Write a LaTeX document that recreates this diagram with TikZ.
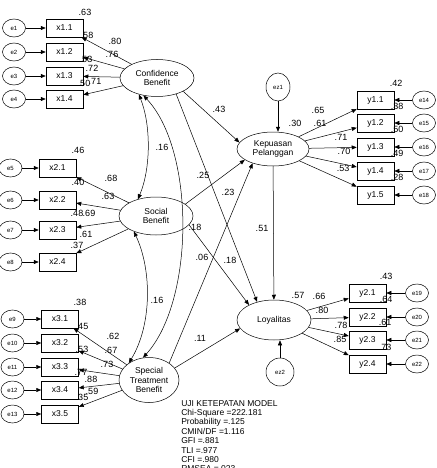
\documentclass[tikz,border=0pt]{standalone}
\usepackage{fontspec}
\setmainfont{Liberation Sans}
\usetikzlibrary{shapes.geometric,arrows.meta}

\begin{document}
\begin{tikzpicture}[x=1pt, y=1pt, line width=0.5pt,
    ind/.style={draw, minimum width=37pt, minimum height=18pt, inner sep=0pt, font=\fontsize{8.5}{9}\selectfont},
    err/.style={draw, ellipse, minimum width=23pt, minimum height=18pt, inner sep=0pt, font=\fontsize{6}{6}\selectfont},
    lat/.style={draw, ellipse, align=center, inner sep=0pt, font=\fontsize{8.5}{9.5}\selectfont},
    coef/.style={inner sep=0pt, font=\fontsize{9}{9}\selectfont},
    arr/.style={-{Triangle[length=5pt,width=4pt]}},
    cov/.style={{Triangle[length=5pt,width=4pt]}-{Triangle[length=5pt,width=4pt]}}]
  \useasboundingbox (0,0) rectangle (436,-468);

  % Latent variables and disturbances
  \node[lat, minimum width=74pt, minimum height=37pt] (conf) at (157,-78) {Confidence\\Benefit};
  \node[lat, minimum width=74pt, minimum height=38pt] (soc) at (156,-216) {Social\\Benefit};
  \node[lat, minimum width=60pt, minimum height=45pt] (spec) at (149,-380) {Special\\Treatment\\Benefit};
  \node[lat, minimum width=72pt, minimum height=34pt] (kep) at (273,-149) {Kepuasan\\Pelanggan};
  \node[lat, minimum width=74pt, minimum height=40pt] (loy) at (274,-320) {Loyalitas};
  \node[err, minimum width=24pt, minimum height=28pt] (ez1) at (278,-87) {ez1};
  \node[err, minimum width=28pt, minimum height=28pt] (ez2) at (280,-372) {ez2};

  % Indicators of the exogenous constructs
  \foreach \i/\e/\y in {1/1/28, 2/2/52, 3/3/76, 4/4/99}{
    \node[ind] (x1\i) at (64.5,-\y) {x1.\i};
    \node[err] (e\e) at (14,-\y) {e\e};
    \draw[arr] (e\e) -- (x1\i);
    \draw[arr] (conf) -- (x1\i);
  }
  \foreach \i/\e/\y in {1/5/168, 2/6/200, 3/7/230, 4/8/262}{
    \node[ind] (x2\i) at (57.5,-\y) {x2.\i};
    \node[err] (e\e) at (10.5,-\y) {e\e};
    \draw[arr] (e\e) -- (x2\i);
    \draw[arr] (soc) -- (x2\i);
  }
  \foreach \i/\e/\y in {1/9/319, 2/10/343, 3/11/367, 4/12/390, 5/13/414}{
    \node[ind] (x3\i) at (60,-\y) {x3.\i};
    \node[err] (e\e) at (12.5,-\y) {e\e};
    \draw[arr] (e\e) -- (x3\i);
    \draw[arr] (spec) -- (x3\i);
  }

  % Indicators of the endogenous constructs
  \foreach \i/\e/\y in {1/14/100, 2/15/123, 3/16/147, 4/17/171, 5/18/195}{
    \node[ind] (y1\i) at (375.5,-\y) {y1.\i};
    \node[err] (e\e) at (424,-\y) {e\e};
    \draw[arr] (e\e) -- (y1\i);
    \draw[arr] (kep) -- (y1\i);
  }
  \foreach \i/\e/\y in {1/19/293, 2/20/317, 3/21/340, 4/22/364}{
    \node[ind] (y2\i) at (367.5,-\y) {y2.\i};
    \node[err] (e\e) at (417,-\y) {e\e};
    \draw[arr] (e\e) -- (y2\i);
    \draw[arr] (loy) -- (y2\i);
  }

  % Structural paths
  \draw[arr] (conf.-27) -- (kep.169);
  \draw[arr] (conf.-40) -- (loy.133);
  \draw[arr] (soc.22) -- (kep.201);
  \draw[arr] (soc.-15) -- (loy.149);
  \draw[arr] (spec.40) -- (kep.215);
  \draw[arr] (spec.25) -- (loy.194);
  \draw[arr] (kep) -- (loy);
  \draw[arr] (ez1) -- (ez1 |- kep.north);
  \draw[arr] (ez2) -- (ez2 |- loy.south);

  % Covariances
  \draw[cov] (conf.222) .. controls (151,-125) and (151,-168) .. (soc.137);
  \draw[cov] (conf.232) .. controls (195,-150) and (195,-300) .. (spec.105);
  \draw[cov] (soc.215) .. controls (152,-270) and (152,-325) .. (spec.140);

  % Estimates
  \foreach \t/\x/\y in {.63/85/12, .58/87/35, .53/86/59, .50/84/83, .80/115/41, .76/112/54, .72/92/68, .71/95/81,
      .46/78/150, .40/78/182, .48/77/213, .37/77/245, .68/111/178, .63/108/196, .69/89/213, .61/86/234,
      .38/80/302, .45/82/326, .53/82/349, .77/81/372, .35/82/397, .62/113/336, .67/111/350, .73/107/364, .88/91/379, .59/92/391,
      .42/396/83, .38/397/106, .50/397/129, .49/397/153, .28/397/177, .65/318/110, .61/320/123, .71/341/137, .70/344/151, .53/343/168,
      .43/386/276, .64/386/299, .61/385/322, .73/385/347, .66/319/296, .80/322/310, .78/341/325, .85/340/339,
      .30/295/123, .57/298/295, .43/219/109, .25/203/175, .23/228/192, .18/195/227, .51/262/228, .06/202/257, .18/230/260, .11/200/338,
      .16/162/147, .16/157/300}{
    \node[coef] (c-\x-\y) at (\x,-\y) {\t};
  }

  % Model fit summary
  \node[anchor=north west, align=left, inner sep=0pt, font=\fontsize{8.5}{9.4}\selectfont] (fit) at (181,-400) {%
UJI KETEPATAN MODEL\\
Chi-Square =222.181\\
Probability =.125\\
CMIN/DF =1.116\\
GFI =.881\\
TLI =.977\\
CFI =.980\\
RMSEA =.023};
\end{tikzpicture}
\end{document}
